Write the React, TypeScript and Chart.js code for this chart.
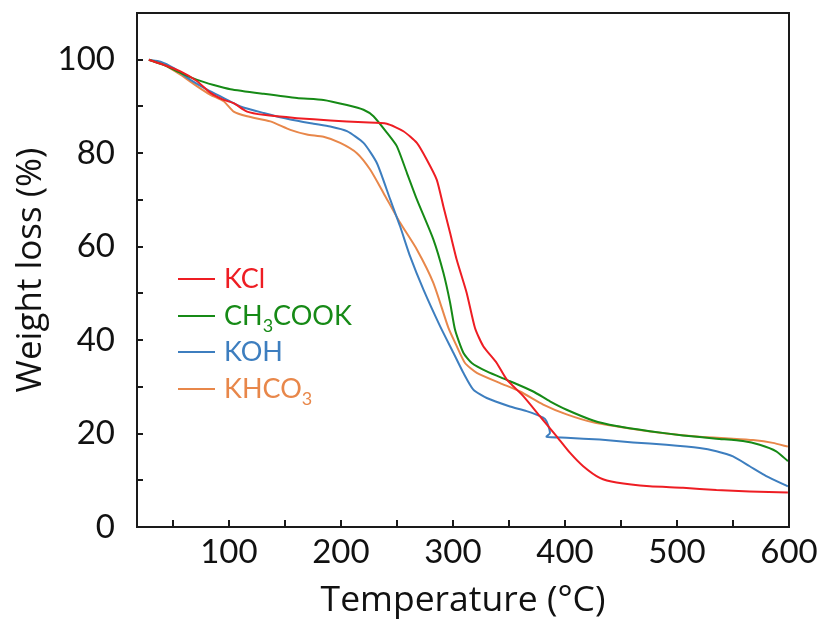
import React, { useEffect, useRef } from "react";
import { Chart, registerables } from "chart.js";
Chart.register(...registerables);

const FONT = "Lato, 'Noto Sans', sans-serif";
const TITLE_FONT = "'Open Sans', Lato, sans-serif";

const SERIES_LABELS = ["KCl", "CH3COOK", "KOH", "KHCO3"];
const SERIES_COLORS = ["#ee1d23", "#168a16", "#3d7ebf", "#e8874a"];

const T_KCL = [28.6, 41.9, 56.8, 71.7, 83.6, 95.4, 104.3, 116.3, 131.1, 160.8, 190.5, 220.2, 241.0, 255.8, 267.8, 276.7, 285.6, 291.5, 297.5, 303.4, 312.3, 319.7, 327.1, 339.1, 348.0, 362.8, 377.7, 392.6, 404.4, 416.3, 431.1, 446.0, 475.7, 505.4, 535.2, 564.9, 599.0];
const W_KCL = [100, 98.9, 97.5, 95.4, 92.9, 91.4, 90.7, 88.9, 88.2, 87.5, 87.0, 86.6, 86.3, 84.7, 82.2, 78.6, 74.3, 68.6, 62.9, 57.2, 50.1, 42.6, 38.7, 35.1, 31.6, 28.0, 23.7, 19.4, 15.9, 13.0, 10.5, 9.5, 8.7, 8.4, 7.9, 7.6, 7.4];

const T_CH3COOK = [28.6, 41.9, 56.8, 71.7, 86.5, 101.4, 131.1, 160.8, 184.5, 205.4, 220.2, 229.1, 241.0, 249.9, 258.9, 267.8, 282.6, 291.5, 297.5, 301.9, 309.3, 316.8, 330.2, 350.9, 371.7, 386.6, 401.5, 425.2, 446.0, 475.7, 505.4, 535.2, 558.9, 573.8, 588.6, 599.0];
const W_CH3COOK = [100, 98.9, 97.2, 95.7, 94.6, 93.7, 92.7, 91.8, 91.4, 90.3, 89.3, 87.9, 84.4, 81.5, 75.8, 70.1, 61.5, 54.4, 48.0, 42.2, 37.3, 35.1, 33.3, 31.2, 29.0, 26.9, 25.1, 22.8, 21.6, 20.5, 19.6, 18.9, 18.4, 17.6, 16.2, 14.1];

const T_KOH = [28.6, 39.0, 50.8, 65.7, 80.6, 95.4, 110.3, 131.1, 154.9, 175.6, 190.5, 205.4, 220.2, 232.1, 244.0, 252.9, 261.8, 273.7, 288.5, 300.4, 309.3, 318.2, 330.2, 350.9, 365.8, 380.6, 383.6, 386.6, 383.6, 401.5, 431.1, 460.8, 490.5, 520.2, 535.2, 550.0, 564.9, 579.7, 599.0];
const W_KOH = [100, 99.6, 98.2, 95.7, 93.6, 91.8, 90.0, 88.6, 87.2, 86.3, 85.7, 84.7, 82.2, 77.9, 70.1, 64.3, 57.9, 50.8, 43.0, 37.3, 33.0, 29.4, 27.6, 25.8, 24.8, 23.4, 22.6, 20.1, 19.3, 19.1, 18.7, 18.1, 17.6, 16.9, 16.2, 15.1, 13.0, 10.9, 8.7];

const T_KHCO3 = [28.6, 41.9, 56.8, 71.7, 83.6, 95.4, 104.3, 116.3, 137.0, 154.9, 169.7, 184.5, 199.4, 214.3, 226.1, 238.0, 252.9, 267.8, 282.6, 296.0, 303.4, 310.8, 321.3, 342.1, 359.9, 380.6, 401.5, 425.2, 455.0, 490.5, 520.2, 550.0, 567.8, 585.6, 599.0];
const W_KHCO3 = [100, 98.9, 96.8, 94.3, 92.5, 91.1, 88.9, 87.9, 86.8, 85.0, 84.0, 83.5, 82.2, 80.0, 76.5, 71.5, 65.1, 59.4, 52.2, 42.6, 38.7, 35.1, 33.0, 30.8, 29.0, 26.2, 24.1, 22.4, 21.2, 20.0, 19.3, 18.9, 18.6, 18.0, 17.2];

const X_LABEL_TICKS = [100, 200, 300, 400, 500, 600];
const X_MINOR_TICKS = [50, 100, 150, 200, 250, 300, 350, 400, 450, 500, 550];
const Y_LABEL_TICKS = [0, 20, 40, 60, 80, 100];
const Y_MINOR_TICKS = [10, 20, 30, 40, 50, 60, 70, 80, 90, 100];

const ALL_T = [T_KCL, T_CH3COOK, T_KOH, T_KHCO3];
const ALL_W = [W_KCL, W_CH3COOK, W_KOH, W_KHCO3];

const framePlugin = {
  id: "frameTicksLegend",
  afterDraw(chart: any) {
    const { ctx, chartArea, scales } = chart;
    const { left, right, top, bottom } = chartArea;
    ctx.save();
    ctx.strokeStyle = "#1a1a1a";
    ctx.lineWidth = 2;
    ctx.beginPath();
    X_MINOR_TICKS.forEach((v) => {
      const px = Math.round(scales.x.getPixelForValue(v));
      ctx.moveTo(px, bottom);
      ctx.lineTo(px, bottom - 7);
    });
    Y_MINOR_TICKS.forEach((v) => {
      const py = Math.round(scales.y.getPixelForValue(v));
      ctx.moveTo(left, py);
      ctx.lineTo(left + 6, py);
    });
    ctx.stroke();
    ctx.strokeRect(left, top, right - left, bottom - top);

    // legend
    const lx0 = left + 41;
    const lx1 = left + 78;
    const tx = left + 87;
    const y0 = top + 266;
    const dy = 36.7;
    chart.data.datasets.forEach((ds: any, i: number) => {
      const cy = Math.round(y0 + i * dy);
      ctx.strokeStyle = ds.borderColor;
      ctx.lineWidth = 2;
      ctx.beginPath();
      ctx.moveTo(lx0, cy);
      ctx.lineTo(lx1, cy);
      ctx.stroke();
      ctx.fillStyle = ds.borderColor;
      ctx.textBaseline = "alphabetic";
      ctx.textAlign = "left";
      const parts = String(ds.label).split(/(\d+)/).filter((p: string) => p.length);
      let x = tx;
      const base = cy + 9;
      parts.forEach((p: string) => {
        if (/^\d+$/.test(p)) {
          ctx.font = `18px ${FONT}`;
          ctx.fillText(p, x, base + 7);
          x += ctx.measureText(p).width;
        } else {
          ctx.font = `27px ${FONT}`;
          ctx.fillText(p, x, base);
          x += ctx.measureText(p).width;
        }
      });
    });
    ctx.restore();
  },
};

export default function App() {
  const ref = useRef<HTMLCanvasElement>(null);
  useEffect(() => {
    if (!ref.current) return;
    const datasets = SERIES_LABELS.map((label, i) => ({
      label,
      data: ALL_T[i].map((t, k) => ({ x: t, y: ALL_W[i][k] })),
      borderColor: SERIES_COLORS[i],
      backgroundColor: SERIES_COLORS[i],
      borderWidth: 2,
      pointRadius: 0,
      tension: 0.2,
      fill: false,
    }));
    const zeroPad = (s: any) => {
      s.paddingTop = 0;
      s.paddingBottom = 0;
      s.paddingLeft = 0;
      s.paddingRight = 0;
    };
    const chart = new Chart(ref.current, {
      type: "line",
      data: { datasets },
      options: {
        animation: false,
        responsive: false,
        events: [],
        layout: { padding: { top: 13, right: 37, left: 0, bottom: 0 } },
        plugins: { legend: { display: false }, tooltip: { enabled: false } },
        scales: {
          x: {
            type: "linear",
            min: 18,
            max: 600,
            grid: { display: false, drawTicks: false },
            border: { display: false },
            afterBuildTicks: (s: any) => {
              s.ticks = X_LABEL_TICKS.map((v) => ({ value: v }));
            },
            afterFit: (s: any) => {
              s.height = 95;
              zeroPad(s);
            },
            ticks: {
              font: { family: FONT, size: 33 },
              color: "#111",
              padding: 6,
              maxRotation: 0,
              autoSkip: false,
            },
            title: {
              display: true,
              text: "Temperature (°C)",
              font: { family: TITLE_FONT, size: 35.5, lineHeight: 1.17 },
              color: "#111",
              padding: { top: 0, bottom: 0 },
            },
          },
          y: {
            type: "linear",
            min: 0,
            max: 110,
            grid: { display: false },
            border: { display: false },
            afterBuildTicks: (s: any) => {
              s.ticks = Y_LABEL_TICKS.map((v) => ({ value: v }));
            },
            afterFit: (s: any) => {
              s.width = 137;
              zeroPad(s);
            },
            ticks: {
              font: { family: FONT, size: 33 },
              color: "#111",
              padding: 14,
              autoSkip: false,
            },
            title: {
              display: true,
              text: "Weight loss (%)",
              font: { family: TITLE_FONT, size: 35, lineHeight: 1.8 },
              color: "#111",
              padding: { top: 0, bottom: 0 },
            },
          },
        },
      },
      plugins: [framePlugin],
    });
    return () => chart.destroy();
  }, []);
  return (
    <div style={{ position: "fixed", left: 0, top: 0, width: 826, height: 622, background: "#fff" }}>
      <canvas ref={ref} width={826} height={622} style={{ display: "block" }} />
    </div>
  );
}
